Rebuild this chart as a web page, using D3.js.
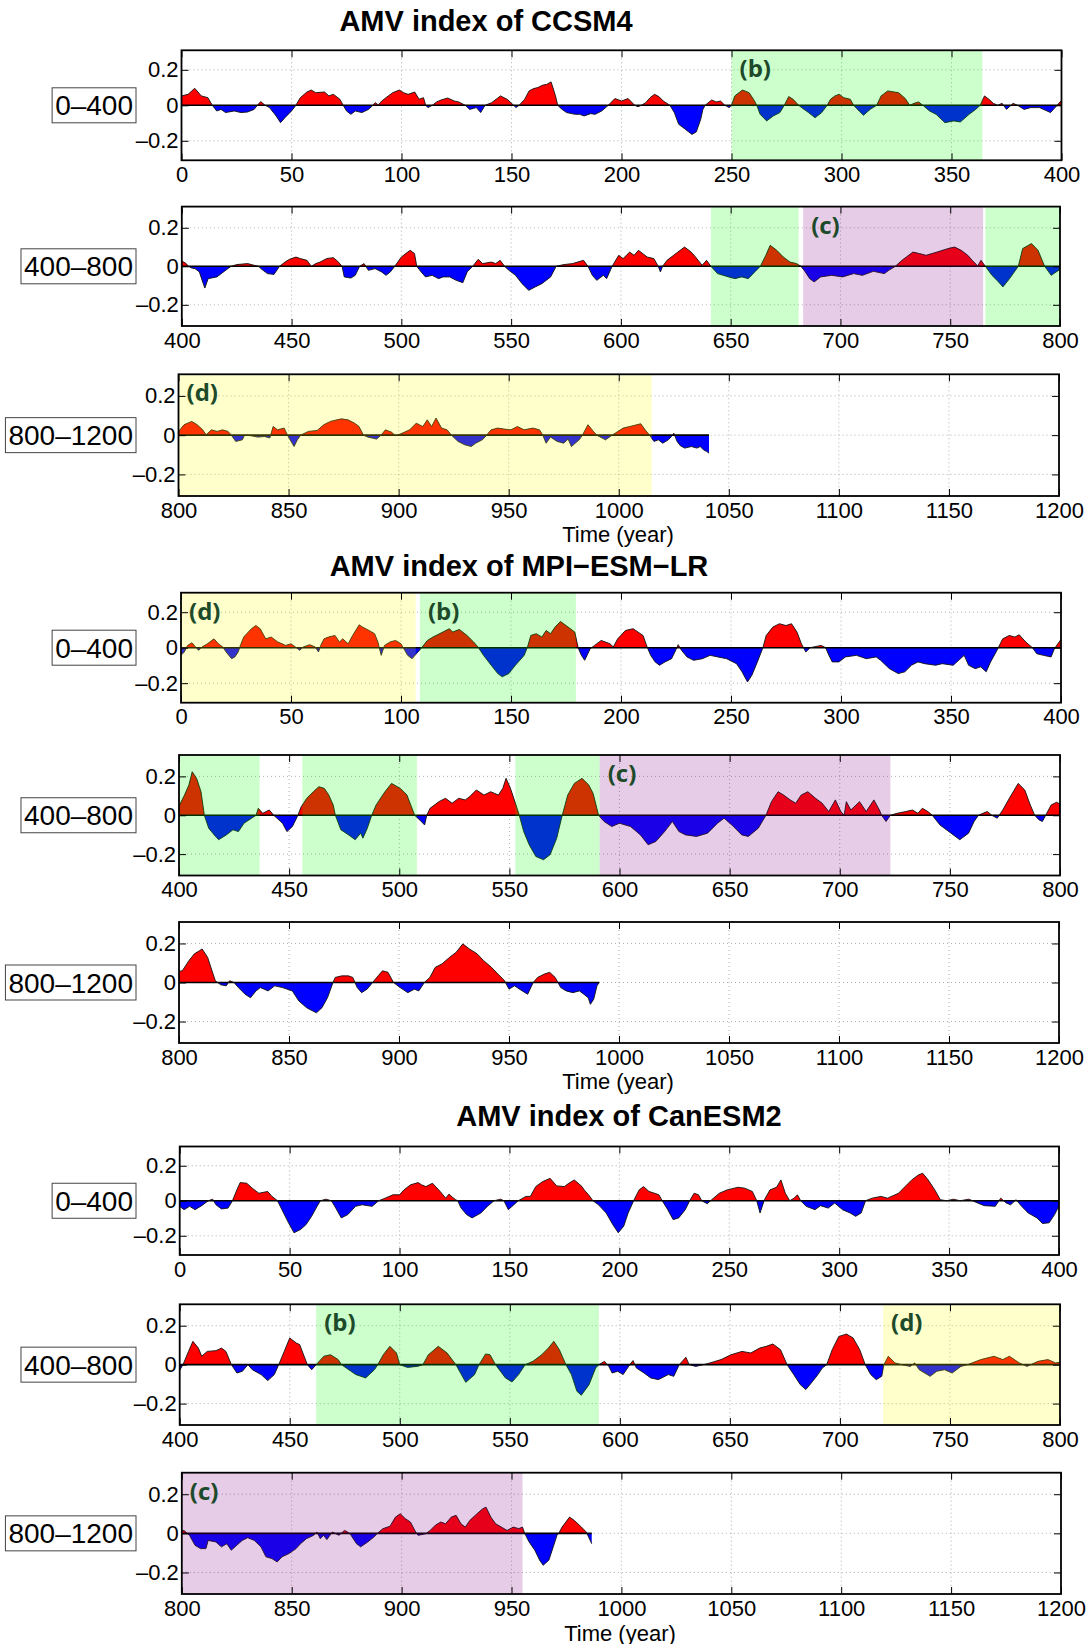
<!DOCTYPE html>
<html>
<head>
<meta charset="utf-8">
<script src="https://cdn.jsdelivr.net/npm/d3@7"></script>
<style>
  body { margin: 0; background: #fff; }
  svg { display: block; }
</style>
</head>
<body>
<svg id="chart" width="1092" height="1644"></svg>
<script>
// ---------------------------------------------------------------------------
// AMV index time series (10-yr smoothed), [model year, index] pairs
// ---------------------------------------------------------------------------
const ccsm4Series = [
  [0,0.053],[3,0.062],[6,0.096],[9,0.053],[12,0.043],[14,0],[16,-0.032],[18,-0.023],[20,-0.041],[24,-0.032],[27,-0.041],[30,-0.038],[33,-0.023],[34.5,0],[36,0.021],[38,0],[40,-0.013],[43,-0.06],[45,-0.098],[47,-0.07],[50,-0.032],[52,0],[54,0.043],[57,0.075],[59,0.086],[61,0.071],[65,0.075],[67,0.053],[69,0.062],[72,0.034],[73.5,0],[75,-0.032],[77,-0.051],[79,-0.032],[82,-0.041],[85,-0.023],[87,0],[88,0.015],[89.5,0.002],[91,0.024],[94,0.053],[96,0.071],[99,0.086],[101,0.071],[103,0.062],[106,0.075],[108,0.034],[110,0.043],[111,0],[112,-0.013],[114,0],[116,0.019],[118,0.03],[121,0.041],[124,0.024],[126,0.019],[129,0],[131,-0.023],[134,-0.013],[136,-0.041],[138,0],[141,0.015],[143,0.034],[145,0.053],[148,0.034],[151,0],[152,-0.013],[153.5,0],[156,0.034],[158,0.081],[160,0.094],[162,0.1],[164,0.113],[166,0.118],[168,0.132],[170,0.053],[171,0],[173,-0.023],[175,-0.041],[179,-0.051],[181,-0.051],[183,-0.06],[186,-0.047],[188,-0.051],[191,-0.032],[194,0],[197,0.038],[200,0.024],[203,0.038],[206,0],[207.5,-0.008],[209,0],[211,0.015],[213,0.043],[215,0.062],[217,0.049],[219,0.024],[222,0],[224,-0.041],[226,-0.107],[229,-0.135],[232,-0.164],[234,-0.15],[236,-0.079],[237,-0.023],[238,0],[241,0.03],[243,0.019],[245,0.024],[247,0],[249,-0.013],[250,0],[251.5,0.053],[255,0.086],[258,0.071],[260,0.034],[261.5,0],[263,-0.051],[266,-0.088],[269,-0.06],[272,-0.041],[274,0],[276,0.049],[278,0.034],[280.5,0],[283,-0.023],[285,-0.041],[288,-0.07],[291,-0.041],[293.5,0],[295,0.034],[297,0.053],[299,0.062],[301,0.043],[304,0.034],[305.5,0],[308,-0.032],[310,-0.056],[313,-0.023],[316,0],[318,0.053],[321,0.081],[324,0.075],[326,0.071],[329,0.038],[331,0],[333,0.011],[335,0.019],[337,0],[340,-0.032],[343,-0.051],[347,-0.098],[351,-0.088],[354,-0.094],[358,-0.051],[361,-0.023],[363,0],[365,0.053],[367,0.034],[369,0.011],[371,0],[373,0.011],[375,-0.023],[378,0.011],[380,0],[383,-0.023],[386,-0.013],[390,-0.013],[395,-0.041],[398,0],[400,0.028],
  [402,0.014],[403,0],[404.5,-0.009],[406,-0.012],[408,-0.029],[409.5,-0.081],[410.5,-0.113],[412,-0.064],[416,-0.055],[419,-0.029],[421,-0.012],[422.5,0],[425,0.009],[430,0.014],[433,0.005],[435,0],[436,-0.012],[439,-0.038],[442,-0.042],[444.5,0],[447,0.022],[449,0.036],[452,0.048],[454,0.04],[457,0.031],[459,0],[461,0.014],[463,0.022],[466,0.04],[469,0.045],[471,0.026],[473,0],[474,-0.055],[477,-0.061],[479,-0.047],[481,0],[483,0.014],[485,-0.021],[488,-0.012],[491,-0.029],[493,-0.047],[495,-0.029],[497,0],[500,0.048],[502,0.066],[504,0.083],[506,0.066],[507,0],[509,-0.029],[511,-0.055],[514,-0.047],[517,-0.064],[519,-0.055],[522,-0.055],[525,-0.073],[528,-0.085],[530,-0.029],[532.5,0],[535,0.036],[537,0.014],[541,0.022],[543,0.014],[545,0.031],[547,0],[549,-0.021],[552,-0.047],[555,-0.09],[558,-0.125],[561,-0.107],[564,-0.09],[568,-0.055],[570.5,0],[574,0.009],[578,0.014],[583,0.031],[585,0],[587,-0.047],[589,-0.073],[592,-0.047],[593.5,-0.064],[596,0],[599,0.057],[601,0.04],[604,0.074],[606,0.057],[608,0.083],[612,0.048],[615,0.04],[617,0],[618,-0.029],[619,0],[621,0.031],[624,0.057],[627,0.083],[629,0.1],[632,0.074],[634,0.048],[637,0.005],[639,0.031],[641,0],[644,-0.038],[649,-0.055],[652,-0.064],[655,-0.055],[658,-0.064],[661,-0.029],[663.5,0],[666,0.057],[668,0.109],[671,0.083],[674,0.048],[677,0.022],[680,0.014],[682,0],[684,-0.029],[686,-0.064],[688,-0.081],[691,-0.055],[696,-0.047],[701,-0.055],[706,-0.038],[710,-0.047],[715,-0.026],[720,-0.038],[722,-0.021],[725,0],[728,0.031],[730,0.048],[733,0.074],[736,0.066],[739,0.057],[744,0.074],[749,0.092],[752,0.1],[755,0.083],[758,0.057],[760,0.031],[762.5,0.002],[764,0.031],[766,0],[769,-0.047],[772,-0.081],[774,-0.107],[777,-0.064],[781,0],[783,0.092],[787,0.118],[790,0.083],[793,0],[796,-0.047],[799.5,-0.02],
  [800.5,0.025],[802.5,0.053],[806,0.07],[808.5,0.053],[811,0.027],[812.5,0.002],[815,0.027],[817.5,0.019],[820,0.027],[822.5,0.019],[824,0],[826,-0.032],[829,-0.024],[830,0],[833,-0.003],[836,-0.01],[839,-0.007],[841.5,-0.014],[843,0.044],[845,0.027],[848,0.036],[849.5,0],[852.5,-0.058],[854,-0.024],[855.5,0],[859,0.019],[863,0.024],[866,0.053],[869,0.07],[872,0.078],[874,0.083],[877,0.078],[880,0.061],[882,0.044],[884,0],[886,-0.01],[888,-0.015],[890,-0.02],[892,0],[894,0.027],[897,0.014],[898.5,-0.003],[901,0.007],[905,0.027],[908,0.061],[911,0.044],[913,0.078],[915,0.044],[917,0.087],[919.5,0.036],[922,0.027],[924,0],[927,-0.032],[930,-0.049],[933,-0.058],[935,-0.041],[938,-0.024],[940,0],[942,0.027],[945,0.036],[948,0.031],[951,0.027],[954,0.044],[957,0.027],[961,0.036],[964,0.027],[965.5,0],[967,-0.041],[969,-0.01],[972,-0.032],[975,-0.041],[977,-0.02],[978.5,-0.058],[982,-0.024],[983.5,0],[986,0.053],[988.5,0.019],[990,0],[994,-0.024],[997,0],[1002,0.036],[1005,0.044],[1010,0.058],[1012,0.027],[1014,0],[1016,-0.032],[1018,-0.024],[1020,-0.041],[1022.5,-0.024],[1024.5,0],[1025,0.01],[1026.5,-0.032],[1028,-0.054],[1030,-0.066],[1033,-0.058],[1035.5,-0.066],[1037,-0.058],[1038.5,-0.075],[1040,-0.083],[1041,-0.092]
];

const mpiSeries = [
  [0,-0.043],[1.5,-0.024],[3,0.013],[5,0.028],[6,0.013],[8,-0.015],[9.5,0.004],[12,0.022],[15,0.05],[17,0.022],[19,0.004],[20.5,-0.024],[23,-0.062],[24.5,-0.052],[26,-0.024],[27,0.013],[28.5,0.06],[32,0.107],[34,0.125],[36,0.107],[38.5,0.05],[41,0.06],[44,0.032],[46,0.022],[47.5,0.013],[50,0.022],[52,0.004],[54,-0.015],[55.5,0.004],[58.5,0.017],[61,0.004],[62.5,-0.024],[63.5,0.013],[65,0.05],[67,0.06],[70,0.069],[72,0.032],[73.5,0.05],[76,0.022],[78,0.069],[81,0.129],[82.5,0.116],[85.5,0.097],[88,0.079],[89.5,0.032],[91,-0.043],[92.5,0.013],[95,0.032],[97.5,0.041],[100,0.022],[103,-0.043],[105,-0.062],[107,-0.034],[109,-0.006],[112,0.041],[114.5,0.06],[119,0.088],[122,0.107],[123.5,0.088],[126.5,0.103],[130,0.069],[133,0.032],[135,0.004],[137.5,-0.043],[141,-0.099],[144,-0.146],[146,-0.164],[149,-0.146],[152,-0.099],[156,-0.043],[157.5,0.004],[159,0.069],[161.5,0.079],[164,0.06],[166,0.097],[168,0.079],[170,0.116],[172.5,0.148],[175,0.125],[179,0.088],[180.5,0],[182,-0.043],[183.5,-0.071],[186,-0.006],[188,0.013],[191,0.041],[195,0.022],[196.5,0.004],[198.5,0.05],[202,0.097],[205.5,0.107],[210,0.069],[212,0],[213.5,-0.043],[215.5,-0.08],[217.5,-0.099],[220,-0.08],[223,-0.062],[224.5,-0.024],[226,0.017],[227.5,-0.015],[230,-0.052],[233,-0.071],[237,-0.062],[240.5,-0.043],[244,-0.052],[248,-0.062],[252.5,-0.09],[255,-0.136],[257.5,-0.193],[259.5,-0.155],[262,-0.08],[264.5,0],[266,0.069],[269,0.116],[272,0.135],[275,0.125],[277.5,0.135],[280,0.088],[282,0.022],[284,-0.024],[286,0],[291,0.013],[293,0],[294.5,-0.043],[296,-0.08],[299,-0.08],[302,-0.052],[307,-0.043],[311.5,-0.062],[316,-0.052],[318,-0.071],[322,-0.118],[326,-0.146],[329,-0.136],[332,-0.099],[335,-0.08],[338,-0.09],[343,-0.099],[346,-0.09],[351,-0.099],[356,-0.043],[358,-0.099],[361,-0.118],[363.5,-0.108],[366,-0.136],[368,-0.08],[370.5,-0.024],[371.5,0],[373.5,0.05],[376.5,0.069],[379,0.06],[381,0.073],[384,0.032],[387,0],[389,-0.034],[392,-0.043],[395.5,-0.052],[397,-0.006],[400,0.047],
  [402.5,0.104],[404.5,0.156],[406,0.224],[408,0.19],[410,0.121],[411.5,0],[413.5,-0.067],[416,-0.101],[418,-0.126],[421.5,-0.101],[424.5,-0.075],[427,-0.084],[429.5,-0.041],[433,-0.015],[435,0],[436,0.036],[438,0.01],[441,0.027],[443,0],[447,-0.041],[449,-0.084],[451.5,-0.058],[454,0],[455.5,0.044],[458,0.087],[461,0.121],[463.5,0.147],[466,0.138],[468,0.104],[470,0.053],[471,0],[473.5,-0.075],[477,-0.101],[480,-0.126],[482.5,-0.092],[483.5,-0.118],[485.5,-0.067],[487.5,0],[489.5,0.053],[493.5,0.121],[496.5,0.164],[500.5,0.138],[503.5,0.104],[507,0],[510,-0.032],[511.5,-0.05],[512.5,0],[514,0.036],[518,0.07],[521,0.087],[524,0.062],[527,0.087],[530,0.079],[532,0.096],[535,0.13],[538.5,0.104],[541.5,0.121],[545,0.104],[547,0.138],[548.5,0.19],[550.5,0.138],[553,0.053],[554.5,0],[556.5,-0.084],[559,-0.152],[562,-0.212],[565.5,-0.229],[568.5,-0.203],[571.5,-0.118],[574,0],[576.5,0.104],[579.5,0.164],[583,0.19],[586,0.156],[588,0.113],[590.5,0],[593,-0.032],[596.5,-0.058],[600,-0.041],[605,-0.058],[609.5,-0.101],[613,-0.152],[616.5,-0.135],[620.5,-0.084],[624,-0.032],[627,-0.084],[630,-0.101],[635,-0.109],[640,-0.092],[644.5,-0.041],[647.5,-0.015],[651,-0.05],[655.5,-0.101],[658.5,-0.109],[663,-0.067],[666.5,0],[669,0.07],[672,0.121],[674.5,0.104],[677.5,0.079],[680,0.062],[682.5,0.104],[685.5,0.121],[689,0.087],[692,0.062],[695,0.019],[698,0.079],[700.5,0.019],[702,0],[703,0.07],[705,0.027],[709,0.07],[712,0.019],[715.5,0.079],[718,0.027],[719,0],[721,-0.032],[723,0],[726,0.01],[730,0.019],[733,0.027],[735.5,0.01],[737.5,0.036],[740,0.019],[742,0],[745.5,-0.05],[750.5,-0.092],[754.5,-0.126],[758.5,-0.092],[761,-0.032],[763,0],[765,0.01],[767,0.019],[769,0],[771.5,-0.015],[774,0.027],[777,0.087],[781,0.164],[784,0.13],[786.5,0.053],[788.5,0],[790.5,-0.024],[792,-0.032],[793.5,0],[796,0.053],[798.5,0.067],[800,0.057],
  [801.5,0.06],[804.5,0.112],[807,0.147],[809.5,0.164],[810.5,0.172],[813,0.129],[815,0.06],[816.5,0.009],[819,-0.012],[821.5,-0.017],[823,0.009],[825,0],[827,-0.026],[830,-0.06],[832.5,-0.078],[835,-0.043],[837,-0.026],[840.5,-0.043],[843.5,-0.017],[847,-0.026],[851.5,-0.043],[854.5,-0.095],[858,-0.129],[861,-0.147],[862.5,-0.155],[865,-0.129],[867.5,-0.078],[870,0],[871,0.026],[874,0.034],[877,0.034],[879,0.026],[881,-0.026],[883,-0.052],[885.5,-0.034],[888,0],[890.5,0.034],[892.5,0.06],[895,0.052],[897.5,0],[900.5,-0.026],[904,-0.052],[907,-0.034],[909,-0.043],[911.5,0],[914,0.026],[916.5,0.078],[919.5,0.095],[923,0.129],[926,0.155],[929,0.198],[932,0.172],[935.5,0.147],[938.5,0.112],[942,0.078],[945,0.043],[948,0.009],[950,-0.034],[952.5,-0.017],[956,-0.043],[958.5,-0.06],[961,0],[963,0.026],[966,0.043],[968.5,0.052],[971,0.026],[973.5,-0.026],[976,-0.043],[979,-0.052],[982,-0.043],[984,-0.06],[986,-0.078],[987,-0.112],[988.5,-0.086],[990,-0.017],[991,0]
];

const canesm2Series = [
  [0,-0.032],[2,-0.051],[4.5,-0.032],[7,-0.051],[10,-0.028],[13,0],[15,0.009],[16.5,-0.023],[19,-0.047],[22,-0.042],[24,0],[26,0.062],[27.5,0.104],[30.5,0.1],[33,0.072],[36,0.043],[40,0.053],[42,0.025],[44.5,0],[46.5,-0.051],[49.5,-0.126],[52,-0.183],[55,-0.164],[57.5,-0.136],[60,-0.089],[62.5,-0.032],[64,0],[66.5,0.009],[69,0],[71,-0.042],[73.5,-0.098],[76.5,-0.079],[80,-0.032],[83,-0.023],[87.5,-0.032],[90.5,0],[93.5,0.015],[97,0.034],[100,0.034],[102,0.062],[105,0.091],[108.5,0.104],[110,0.091],[112,0.081],[115,0.1],[118.5,0.053],[121,0.015],[122.5,0.038],[124,0.021],[125.5,0.006],[126.5,0],[128,-0.042],[130.5,-0.079],[133,-0.098],[137,-0.07],[140,-0.032],[143,0],[146,0.009],[147.5,0],[149.5,-0.051],[152,-0.023],[154,0],[157.5,0.025],[159.5,0.025],[162,0.081],[165,0.109],[168.5,0.128],[171.5,0.085],[175,0.081],[177,0.1],[179.5,0.119],[183,0.081],[184,0.062],[186,0.034],[188,0],[190.5,-0.023],[194,-0.07],[197,-0.136],[199.5,-0.183],[202,-0.145],[204,-0.07],[206.5,0],[209,0.062],[211,0.081],[213.5,0.053],[216,0.043],[218,0.034],[219.5,0],[222,-0.051],[224.5,-0.108],[227,-0.098],[230,-0.051],[232,0],[234,0.043],[236,0.034],[237.5,0],[240,-0.017],[242,0.006],[245.5,0.043],[249,0.062],[254,0.077],[257,0.072],[260.5,0.053],[262.5,0],[264,-0.07],[266,0.006],[268.5,0.062],[271.5,0.077],[273.5,0.119],[275.5,0.043],[277.5,0],[279.5,0.015],[281,0.034],[282.5,0],[285,-0.032],[289,-0.051],[291.5,-0.028],[295,-0.042],[298,-0.013],[301.5,-0.051],[305,-0.07],[307.5,-0.089],[310,-0.07],[312,0],[315,0.015],[319,0.025],[322,0.015],[327,0.043],[330,0.081],[333,0.119],[336,0.147],[338,0.157],[340.5,0.119],[343.5,0.062],[346,0.006],[349,0],[352,0.009],[355,0],[359,0.009],[363,-0.013],[366,-0.028],[371,-0.032],[373.5,0.015],[376,-0.013],[378,-0.023],[380.5,0.006],[383,-0.032],[386,-0.07],[390,-0.098],[392.5,-0.13],[395.5,-0.126],[398,-0.079],[400,-0.029],
  [401.5,0],[404,0.068],[406,0.12],[408.5,0.085],[410,0.043],[412.5,0.068],[416.5,0.072],[419,0.085],[421,0.068],[423.5,0],[426,-0.043],[428.5,-0.034],[431,0],[433,-0.026],[437,-0.051],[440,-0.082],[443,-0.051],[445,0],[447.5,0.068],[450,0.137],[453,0.111],[454.5,0.103],[458,0],[460,-0.026],[462,0],[465.5,0.043],[468.5,0.051],[472,0.026],[473.5,0],[480,-0.051],[484.5,-0.068],[488.5,-0.026],[490,0],[492.5,0.051],[495.5,0.094],[498.5,0.06],[500,0],[503.5,-0.014],[508,-0.009],[510.5,0],[513,0.051],[517.5,0.094],[521.5,0.06],[525.5,0],[528,-0.051],[530,-0.091],[534,-0.051],[536,0],[539,0.055],[541,0.051],[543.5,0],[548,-0.068],[551,-0.089],[554,-0.051],[557,0],[560.5,0.017],[564.5,0.051],[567.5,0.085],[570,0.12],[572.5,0.077],[575.5,0],[578,-0.051],[580.5,-0.137],[582.5,-0.157],[586,-0.103],[589,-0.017],[590.5,0],[593,0.017],[595,-0.009],[596.5,-0.043],[599,-0.034],[601.5,-0.051],[604.5,0],[606,0.021],[607.5,-0.017],[611,-0.043],[614,-0.068],[617.5,-0.077],[622,-0.051],[624.5,-0.06],[627,0],[630,0.038],[631.5,0],[634.5,-0.009],[638,0],[641,0.009],[646,0.026],[650.5,0.051],[655.5,0.068],[659.5,0.06],[663.5,0.085],[666.5,0.094],[669.5,0.106],[673,0.077],[676,0],[679,-0.051],[682,-0.103],[684.5,-0.128],[687,-0.094],[690,-0.051],[692,-0.017],[694,0],[696.5,0.077],[699.5,0.145],[703,0.157],[706,0.137],[709,0.077],[711.5,0],[714,-0.051],[716.5,-0.077],[719,-0.06],[720,0],[722,0.043],[725,0.009],[728,0],[732,-0.009],[734,0.009],[736,-0.026],[741,-0.06],[744,-0.034],[747.5,-0.026],[751,-0.043],[755,-0.009],[758,0],[764,0.026],[770,0.043],[774,0.026],[777,0.043],[781.5,0.009],[785,-0.009],[790,0.017],[794.5,0.026],[798,0.009],[800,0.012],
  [801,0.015],[803.5,-0.01],[806,-0.061],[808.5,-0.078],[811,-0.078],[812,-0.036],[815.5,-0.044],[818,-0.069],[820.5,-0.053],[822.5,-0.086],[825,-0.061],[827.5,-0.036],[830,-0.022],[833,-0.036],[836,-0.069],[838.3,-0.12],[841,-0.129],[843.4,-0.146],[845.6,-0.12],[848.8,-0.103],[852,-0.078],[854,-0.053],[856.7,-0.027],[860,-0.01],[861.5,0.007],[863,-0.027],[864.5,-0.01],[866,-0.032],[868.5,0.007],[871.5,-0.01],[874,0.015],[875.5,0.007],[877,-0.01],[879.5,-0.053],[881.4,-0.069],[884.6,-0.044],[887.4,-0.019],[889,0],[891.5,0.024],[894.7,0.036],[897.2,0.083],[899.4,0.1],[901.7,0.075],[904,0.058],[906.4,0.007],[907.5,-0.01],[911,-0.002],[913,0.015],[915.3,0.041],[917.8,0.058],[920,0.049],[922.6,0.083],[924.8,0.092],[927,0.049],[929,0.032],[931,0.066],[934.3,0.1],[936.8,0.125],[938.4,0.134],[940.6,0.083],[942.8,0.049],[945.4,0.032],[948,0.015],[950.8,0.032],[953.3,0.024],[955,0.032],[956,0],[958,-0.044],[960.6,-0.086],[962.8,-0.137],[964.4,-0.163],[967,-0.137],[969,-0.069],[970.7,-0.01],[971.5,0],[973,0.032],[976.4,0.083],[978.6,0.066],[981.8,0.032],[984,0.007],[986.5,-0.053]
];

// Highlighted phases: [start year, end year, phase, show label]
const ccsm4Phases = [[250,364,"b",true],[641,681,"b",false],[683,765,"c",true],[766,800,"b",false],[800,1015,"d",true]];
const mpiPhases = [[0,106.7,"d",true],[108.6,179.5,"b",true],[400,436.6,"b",false],[456,508,"b",false],[552.7,591,"b",false],[591,723,"c",true]];
const canesm2Phases = [[462,590.5,"b",true],[719.6,800,"d",true],[800,955,"c",true]];

const modelNames = ["CCSM4", "MPI\u2212ESM\u2212LR", "CanESM2"];
const segmentLabels = ["0\u2013400", "400\u2013800", "800\u20131200"];
const segmentRanges = [[0, 400], [400, 800], [800, 1200]];
const xTickValues = [
  [0, 50, 100, 150, 200, 250, 300, 350, 400],
  [400, 450, 500, 550, 600, 650, 700, 750, 800],
  [800, 850, 900, 950, 1000, 1050, 1100, 1150, 1200]
];
const yTickValues = [-0.2, 0, 0.2];
const xAxisTitle = "Time (year)";

// ---------------------------------------------------------------------------
// Layout
// ---------------------------------------------------------------------------
const seriesByModel = [ccsm4Series, mpiSeries, canesm2Series];
const phasesByModel = [ccsm4Phases, mpiPhases, canesm2Phases];
const phaseColor = { b: "#00ff00", c: "#800080", d: "#ffff00" };

const panelBoxes = [
  { m: 0, s: 0, l: 181.5, r: 1061.5, t: 50.3,  b: 160.3 },
  { m: 0, s: 1, l: 181.8, r: 1060,   t: 206.6, b: 326 },
  { m: 0, s: 2, l: 178.5, r: 1059,   t: 374.3, b: 496 },
  { m: 1, s: 0, l: 181,   r: 1061,   t: 592.7, b: 702.7 },
  { m: 1, s: 1, l: 179,   r: 1060,   t: 755,   b: 875.5 },
  { m: 1, s: 2, l: 179,   r: 1059,   t: 922,   b: 1043 },
  { m: 2, s: 0, l: 179.7, r: 1059,   t: 1146.5, b: 1255 },
  { m: 2, s: 1, l: 179.7, r: 1060,   t: 1304.3, b: 1425 },
  { m: 2, s: 2, l: 181.8, r: 1061,   t: 1472.7, b: 1594 }
];
const titlePos = [{ x: 486, y: 31 }, { x: 519, y: 576 }, { x: 619, y: 1126 }];
const timeLabelPos = [{ x: 618, y: 542 }, { x: 618, y: 1089 }, { x: 620, y: 1640.5 }];

const yLim = 0.31;
const sansFont = "'Liberation Sans', Arial, Helvetica, sans-serif";
const fmtY = d => d === 0 ? "0" : d3.format(".1f")(d).replace("\u2212", "\u2013");

const svg = d3.select("#chart");
const defs = svg.append("defs");

panelBoxes.forEach((p, i) => {
  const data = seriesByModel[p.m];
  const [x0, x1] = segmentRanges[p.s];
  const x = d3.scaleLinear().domain([x0, x1]).range([p.l, p.r]);
  const y = d3.scaleLinear().domain([-yLim, yLim]).range([p.b, p.t]);
  const w = p.r - p.l, h = p.b - p.t;
  const zy = y(0);

  // clip paths: full plot, upper half (positive), lower half (negative)
  defs.append("clipPath").attr("id", `plot${i}`)
    .append("rect").attr("x", p.l).attr("y", p.t).attr("width", w).attr("height", h);
  defs.append("clipPath").attr("id", `pos${i}`)
    .append("rect").attr("x", p.l).attr("y", p.t).attr("width", w).attr("height", zy - p.t);
  defs.append("clipPath").attr("id", `neg${i}`)
    .append("rect").attr("x", p.l).attr("y", zy).attr("width", w).attr("height", p.b - zy);

  const g = svg.append("g");

  // dotted grid
  const grid = g.append("g").attr("stroke", "#9a9a9a").attr("stroke-width", 0.8)
    .attr("stroke-dasharray", "1,3");
  xTickValues[p.s].slice(1, -1).forEach(v => {
    grid.append("line").attr("x1", x(v)).attr("x2", x(v)).attr("y1", p.t).attr("y2", p.b);
  });
  yTickValues.forEach(v => {
    grid.append("line").attr("x1", p.l).attr("x2", p.r).attr("y1", y(v)).attr("y2", y(v));
  });

  // filled anomaly areas
  const area = d3.area().x(d => x(d[0])).y0(zy).y1(d => y(d[1]));
  g.append("path").datum(data).attr("d", area).attr("fill", "#ff0000")
    .attr("clip-path", `url(#pos${i})`);
  g.append("path").datum(data).attr("d", area).attr("fill", "#0000ff")
    .attr("clip-path", `url(#neg${i})`);

  // zero baseline where data exist
  const dx0 = Math.max(x0, d3.min(data, d => d[0]));
  const dx1 = Math.min(x1, d3.max(data, d => d[0]));
  if (dx1 > dx0) {
    g.append("line").attr("x1", x(dx0)).attr("x2", x(dx1)).attr("y1", zy).attr("y2", zy)
      .attr("stroke", "#000").attr("stroke-width", 1.6);
  }

  // outline of the index
  g.append("path").datum(data)
    .attr("d", d3.line().x(d => x(d[0])).y(d => y(d[1])))
    .attr("fill", "none").attr("stroke", "#111").attr("stroke-width", 0.9)
    .attr("clip-path", `url(#plot${i})`);

  // highlighted phases (translucent overlays)
  const overlay = g.append("g").attr("clip-path", `url(#plot${i})`);
  phasesByModel[p.m].forEach(([a, b, ph, show]) => {
    if (b <= x0 || a >= x1) return;
    overlay.append("rect")
      .attr("x", x(a)).attr("y", p.t).attr("width", x(b) - x(a)).attr("height", h)
      .attr("fill", phaseColor[ph]).attr("fill-opacity", 0.2);
    if (show && a >= x0) {
      g.append("text").attr("x", x(a) + 8).attr("y", p.t + 27)
        .attr("font-family", "'Open Sans', 'Noto Sans', sans-serif")
        .attr("font-weight", 700).attr("font-size", 24).attr("fill", "#1d4a2a")
        .text(`(${ph})`);
    }
  });

  // axes with inward ticks
  const axisStyle = sel => {
    sel.select(".domain").remove();
    sel.selectAll(".tick line").attr("stroke", "#000").attr("stroke-width", 1);
    sel.selectAll("text").attr("font-family", sansFont).attr("font-size", 22).attr("fill", "#000");
  };
  g.append("g").attr("transform", `translate(0,${p.b})`)
    .call(d3.axisBottom(x).tickValues(xTickValues[p.s]).tickFormat(d3.format("d"))
      .tickSizeInner(-7).tickSizeOuter(0).tickPadding(6))
    .call(axisStyle);
  g.append("g").attr("transform", `translate(0,${p.t})`)
    .call(d3.axisTop(x).tickValues(xTickValues[p.s]).tickFormat("")
      .tickSizeInner(-7).tickSizeOuter(0))
    .call(axisStyle);
  g.append("g").attr("transform", `translate(${p.l},0)`)
    .call(d3.axisLeft(y).tickValues(yTickValues).tickFormat(fmtY)
      .tickSizeInner(-7).tickSizeOuter(0).tickPadding(3))
    .call(axisStyle);
  g.append("g").attr("transform", `translate(${p.r},0)`)
    .call(d3.axisRight(y).tickValues(yTickValues).tickFormat("")
      .tickSizeInner(-7).tickSizeOuter(0))
    .call(axisStyle);

  // frame
  g.append("rect").attr("x", p.l).attr("y", p.t).attr("width", w).attr("height", h)
    .attr("fill", "none").attr("stroke", "#000").attr("stroke-width", 1.8);

  // segment label box
  const lab = svg.append("g");
  const txt = lab.append("text").attr("x", 133).attr("y", zy + 10)
    .attr("text-anchor", "end").attr("font-family", sansFont).attr("font-size", 28)
    .attr("fill", "#000").text(segmentLabels[p.s]);
  const bb = txt.node().getBBox();
  lab.insert("rect", "text")
    .attr("x", bb.x - 3).attr("y", zy - 17.5).attr("width", bb.width + 6).attr("height", 35)
    .attr("fill", "#fff").attr("stroke", "#444").attr("stroke-width", 1);
});

// titles and x-axis captions
modelNames.forEach((name, m) => {
  svg.append("text").attr("x", titlePos[m].x).attr("y", titlePos[m].y)
    .attr("text-anchor", "middle").attr("font-family", sansFont)
    .attr("font-weight", 700).attr("font-size", 29).attr("fill", "#000")
    .text(`AMV index of ${name}`);
  svg.append("text").attr("x", timeLabelPos[m].x).attr("y", timeLabelPos[m].y)
    .attr("text-anchor", "middle").attr("font-family", sansFont)
    .attr("font-size", 22).attr("fill", "#000").text(xAxisTitle);
});
</script>
</body>
</html>
